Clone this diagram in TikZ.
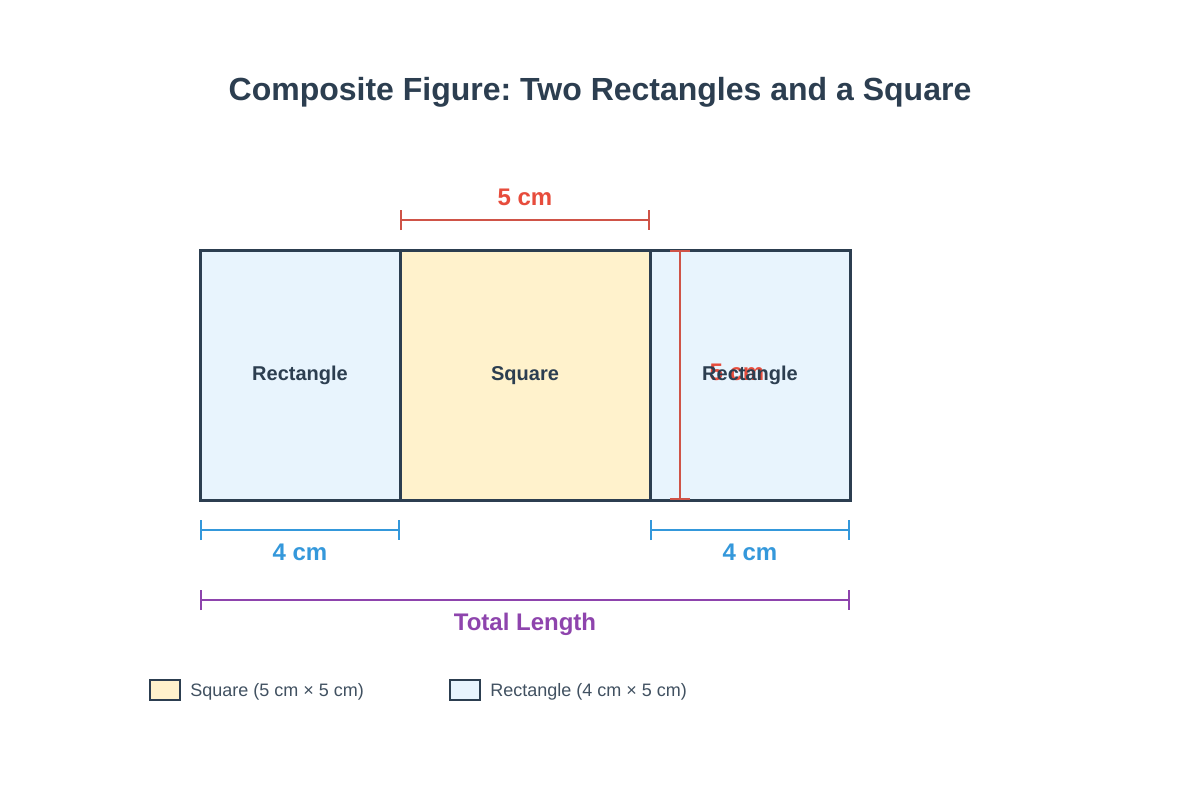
\documentclass[tikz,border=0pt]{standalone}
\usepackage{fontspec}
\setmainfont{Liberation Sans}
\usetikzlibrary{arrows.meta}
\definecolor{inkdark}{HTML}{2C3E50}
\definecolor{squarefill}{HTML}{FFF2CC}
\definecolor{rectfill}{HTML}{E8F4FD}
\definecolor{dimred}{HTML}{E74C3C}
\definecolor{dimredline}{HTML}{CF5347}
\definecolor{dimblue}{HTML}{3498DB}
\definecolor{dimpurple}{HTML}{8E44AD}
\frenchspacing
\begin{document}
\begin{tikzpicture}[x=0.75pt,y=-0.75pt,
    shapebox/.style={draw=inkdark,line width=2.25pt},
    shapelabel/.style={anchor=base,text=inkdark,font=\bfseries\fontsize{15}{18}\selectfont},
    dimline/.style={line width=1.6pt,{Bar[width=15pt,line width=1.8pt]}-{Bar[width=15pt,line width=1.8pt]}},
    dimlabel/.style={anchor=base,font=\bfseries\fontsize{18}{22}\selectfont},
    keybox/.style={draw=inkdark,line width=1.5pt},
    keylabel/.style={anchor=base west,inner sep=0pt,text=inkdark!90,font=\fontsize{13.5}{16}\selectfont}]
    \useasboundingbox[fill=white] (0,0) rectangle (1200,800);

    % title
    \node[anchor=base,text=inkdark,font=\bfseries\fontsize{24}{29}\selectfont] (title) at (600,100) {Composite Figure: Two Rectangles and a Square};

    % shapes
    \draw[shapebox,fill=rectfill] (200,250) rectangle (400,500);
    \draw[shapebox,fill=squarefill] (400,250) rectangle (650,500);
    \draw[shapebox,fill=rectfill] (650,250) rectangle (850,500);

    % side of the square, drawn on the right rectangle
    \coordinate (sidetop) at (680,250);
    \coordinate (sidebot) at (680,500);
    \draw[dimline,dimredline] (sidetop) -- (sidebot);
    \node[dimlabel,text=dimred] (sidelabel) at (737,380) {5 cm};

    % shape names
    \node[shapelabel] (leftname) at (300,380) {Rectangle};
    \node[shapelabel] (squarename) at (525,380) {Square};
    \node[shapelabel] (rightname) at (750,380) {Rectangle};

    % top dimension
    \coordinate (topa) at (400,220);
    \coordinate (topb) at (650,220);
    \draw[dimline,dimredline] (topa) -- (topb);
    \node[dimlabel,text=dimred] (toplabel) at (525,205) {5 cm};

    % bottom dimensions
    \coordinate (lefta) at (200,530);
    \coordinate (leftb) at (400,530);
    \draw[dimline,dimblue] (lefta) -- (leftb);
    \node[dimlabel,text=dimblue] (leftlabel) at (300,560) {4 cm};
    \coordinate (righta) at (650,530);
    \coordinate (rightb) at (850,530);
    \draw[dimline,dimblue] (righta) -- (rightb);
    \node[dimlabel,text=dimblue] (rightlabel) at (750,560) {4 cm};

    % total length
    \coordinate (totala) at (200,600);
    \coordinate (totalb) at (850,600);
    \draw[dimline,dimpurple] (totala) -- (totalb);
    \node[dimlabel,text=dimpurple] (totallabel) at (525,630) {Total Length};

    % legend
    \draw[keybox,fill=squarefill] (150,680) rectangle (180,700);
    \node[keylabel] (squarekey) at (190,696) {Square (5 cm × 5 cm)};
    \draw[keybox,fill=rectfill] (450,680) rectangle (480,700);
    \node[keylabel] (rectkey) at (490,696) {Rectangle (4 cm × 5 cm)};
\end{tikzpicture}
\end{document}
